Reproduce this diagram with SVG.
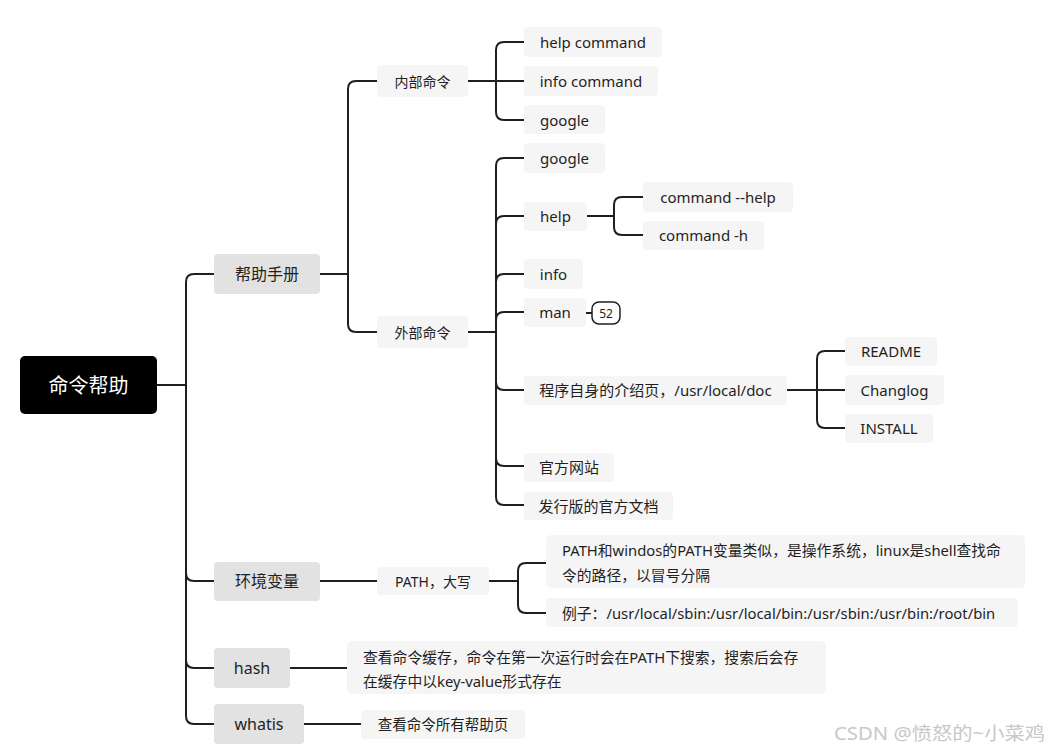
<svg xmlns="http://www.w3.org/2000/svg" width="1052" height="751" viewBox="0 0 1052 751">
<style>
text{font-family:"Noto Sans","Noto Sans CJK SC",sans-serif;fill:#1f1f1f;dominant-baseline:central}
.l1 rect{fill:#e2e2e2}
.l1 text{font-size:16px;text-anchor:middle}
.l2 rect{fill:#f5f5f5}
.l2 text{font-size:14px;text-anchor:middle}
.l3 rect{fill:#f5f5f5}
.l3 text{font-size:15px;text-anchor:middle}
.ml text{font-size:14.8px;text-anchor:start}
.conn path{fill:none;stroke:#1f1f1f;stroke-width:2}
</style>
<rect width="1052" height="751" fill="#fff"/>
<g class="conn" id="connectors">
<path d="M157,385 H186 V282 Q186,274 194,274 H214"/>
<path d="M157,385 H186 V573 Q186,581 194,581 H214"/>
<path d="M157,385 H186 V660 Q186,668 194,668 H214"/>
<path d="M157,385 H186 V716 Q186,724 194,724 H214"/>
<path d="M320,274 H348 V89 Q348,81 356,81 H377"/>
<path d="M320,274 H348 V324 Q348,332 356,332 H377"/>
<path d="M468,81 H496 V50 Q496,42 504,42 H524"/>
<path d="M468,81 H524"/>
<path d="M468,81 H496 V112 Q496,120 504,120 H524"/>
<path d="M468,332 H496 V166 Q496,158 504,158 H524"/>
<path d="M468,332 H496 V224 Q496,216 504,216 H524"/>
<path d="M468,332 H496 V282 Q496,274 504,274 H524"/>
<path d="M468,332 H496 V320 Q496,312 504,312 H524"/>
<path d="M468,332 H496 V382 Q496,390 504,390 H524"/>
<path d="M468,332 H496 V458 Q496,466 504,466 H524"/>
<path d="M468,332 H496 V497 Q496,505 504,505 H524"/>
<path d="M587,216 H614 V205 Q614,197 622,197 H643"/>
<path d="M587,216 H614 V227 Q614,235 622,235 H643"/>
<path d="M586,313 H592"/>
<path d="M787,390 H817 V359 Q817,351 825,351 H845"/>
<path d="M787,390 H845"/>
<path d="M787,390 H817 V420 Q817,428 825,428 H845"/>
<path d="M320,581 H377"/>
<path d="M489,581 H518 V571 Q518,563 526,563 H546"/>
<path d="M489,581 H518 V605 Q518,613 526,613 H546"/>
<path d="M290,668 H347"/>
<path d="M304,724 H361"/>
</g>
<g id="root">
<rect x="20" y="356" width="137" height="58" rx="5" fill="#000"/>
<text x="88.5" y="385" style="fill:#fff;font-size:20px;text-anchor:middle">命令帮助</text>
</g>
<g id="n-bangzhu" class="l1"><rect x="214" y="254" width="106" height="40" rx="4"/><text x="267" y="274">帮助手册</text></g>
<g id="n-huanjing" class="l1"><rect x="214" y="562" width="106" height="39" rx="4"/><text x="267" y="581">环境变量</text></g>
<g id="n-hash" class="l1"><rect x="214" y="648" width="76" height="40" rx="4"/><text x="252" y="668">hash</text></g>
<g id="n-whatis" class="l1"><rect x="214" y="704" width="90" height="40" rx="4"/><text x="259" y="724">whatis</text></g>

<g id="n-neibu" class="l2"><rect x="377" y="65" width="91" height="32" rx="4"/><text x="422.5" y="81">内部命令</text></g>
<g id="n-waibu" class="l2"><rect x="377" y="316" width="91" height="32" rx="4"/><text x="422.5" y="332">外部命令</text></g>
<g id="n-path" class="l2"><rect x="377" y="567" width="112" height="28" rx="4"/><text x="433" y="581">PATH，大写</text></g>

<g id="n-helpcmd" class="l3"><rect x="524" y="27" width="138" height="30" rx="4"/><text x="593" y="42">help command</text></g>
<g id="n-infocmd" class="l3"><rect x="524" y="66" width="134" height="30" rx="4"/><text x="591" y="81">info command</text></g>
<g id="n-google1" class="l3"><rect x="524" y="105" width="81" height="29" rx="4"/><text x="564.5" y="120">google</text></g>

<g id="n-google2" class="l3"><rect x="524" y="143" width="81" height="30" rx="4"/><text x="564.5" y="158">google</text></g>
<g id="n-help" class="l3"><rect x="524" y="202" width="63" height="29" rx="4"/><text x="555.5" y="216">help</text></g>
<g id="n-cmdhelp" class="l3"><rect x="643" y="182" width="150" height="30" rx="4"/><text x="718" y="197">command --help</text></g>
<g id="n-cmdh" class="l3"><rect x="643" y="221" width="121" height="29" rx="4"/><text x="703.5" y="235">command -h</text></g>
<g id="n-info" class="l3"><rect x="524" y="259" width="59" height="30" rx="4"/><text x="553.5" y="274">info</text></g>
<g id="n-man" class="l3"><rect x="524" y="298" width="62" height="29" rx="4"/><text x="555" y="312">man</text></g>
<g id="n-badge"><rect x="592" y="302" width="28" height="22" rx="7" fill="#fff" stroke="#1f1f1f" stroke-width="1.5"/><text x="606" y="313" style="font-size:12px;text-anchor:middle">52</text></g>
<g id="n-doc" class="l3"><rect x="524" y="376" width="263" height="29" rx="4"/><text x="655.5" y="390">程序自身的介绍页，/usr/local/doc</text></g>
<g id="n-readme" class="l3"><rect x="845" y="337" width="92" height="29" rx="4"/><text x="891" y="351">README</text></g>
<g id="n-changlog" class="l3"><rect x="845" y="375" width="99" height="30" rx="4"/><text x="894.5" y="390">Changlog</text></g>
<g id="n-install" class="l3"><rect x="845" y="414" width="88" height="29" rx="4"/><text x="889" y="428">INSTALL</text></g>
<g id="n-guanfang" class="l3"><rect x="524" y="453" width="90" height="29" rx="4"/><text x="569" y="467">官方网站</text></g>
<g id="n-faxing" class="l3"><rect x="524" y="492" width="149" height="28" rx="4"/><text x="598.5" y="506">发行版的官方文档</text></g>

<g id="n-pathdesc" class="l3 ml"><rect x="546" y="535" width="479" height="53" rx="5"/><text x="562" y="550">PATH和windos的PATH变量类似，是操作系统，linux是shell查找命</text><text x="562" y="575">令的路径，以冒号分隔</text></g>
<g id="n-pathex" class="l3 ml"><rect x="546" y="598" width="472" height="29" rx="4"/><text x="562" y="613">例子：/usr/local/sbin:/usr/local/bin:/usr/sbin:/usr/bin:/root/bin</text></g>
<g id="n-hashdesc" class="l3 ml"><rect x="347" y="641" width="479" height="53" rx="5"/><text x="363" y="657">查看命令缓存，命令在第一次运行时会在PATH下搜索，搜索后会存</text><text x="363" y="681">在缓存中以key-value形式存在</text></g>
<g id="n-whatisdesc" class="l2"><rect x="361" y="710" width="164" height="29" rx="4"/><text x="443" y="724" style="font-size:14.5px">查看命令所有帮助页</text></g>

<text x="834" y="733" textLength="211" lengthAdjust="spacingAndGlyphs" style="font-size:18px;fill:#c8c8c8">CSDN @愤怒的~小菜鸡</text>
</svg>
